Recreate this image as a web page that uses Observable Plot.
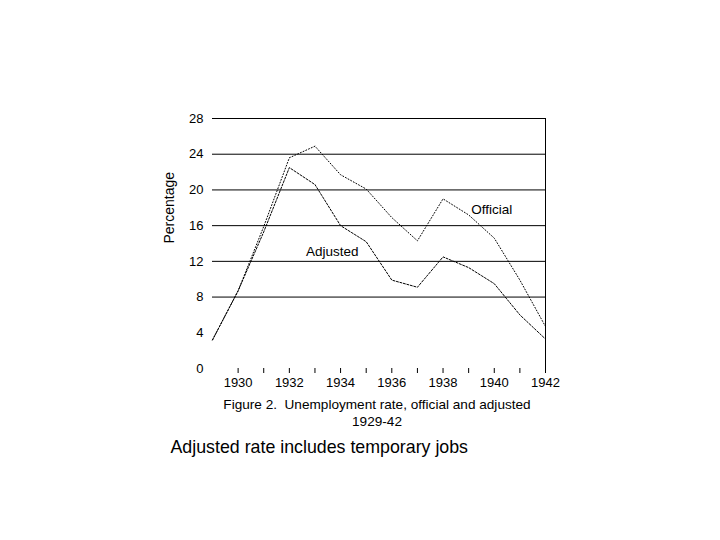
<!DOCTYPE html>
<html>
<head>
<meta charset="utf-8">
<script src="https://cdn.jsdelivr.net/npm/d3@7"></script>
<script src="https://cdn.jsdelivr.net/npm/@observablehq/plot@0.6"></script>
<style>
  html, body { margin: 0; padding: 0; background: #fff; }
</style>
</head>
<body>
<div id="chart"></div>
<script>
const years = [1929, 1930, 1931, 1932, 1933, 1934, 1935, 1936, 1937, 1938, 1939, 1940, 1941, 1942];
const official = [3.2, 8.7, 15.9, 23.6, 24.9, 21.7, 20.1, 16.9, 14.3, 19.0, 17.2, 14.6, 9.9, 4.7];
const adjusted = [3.2, 8.7, 15.3, 22.5, 20.6, 16.0, 14.2, 9.9, 9.1, 12.5, 11.3, 9.5, 6.0, 3.3];
const yTicks = [0, 4, 8, 12, 16, 20, 24, 28];
const gridValues = [8, 12, 16, 20, 24, 28];
const xTicks = [1930, 1931, 1932, 1933, 1934, 1935, 1936, 1937, 1938, 1939, 1940, 1941, 1942];
const seriesLabels = [
  {text: "Official", x: 1939.1, y: 17.8},
  {text: "Adjusted", x: 1932.65, y: 13.1}
];
const yLabel = "Percentage";
const captionLines = ["Figure 2.  Unemployment rate, official and adjusted", "1929-42"];
const note = "Adjusted rate includes temporary jobs";

const rows = years.map((year, i) => ({year, official: official[i], adjusted: adjusted[i]}));

const chart = Plot.plot({
  width: 720,
  height: 540,
  marginLeft: 212,
  marginRight: 175,
  marginTop: 118,
  marginBottom: 172,
  x: {domain: [1929, 1942]},
  y: {domain: [0, 28]},
  style: {fontFamily: "'Liberation Sans', Arial, sans-serif", fontSize: "13px", color: "#000", background: "#fff"},
  marks: [
    Plot.ruleY(gridValues, {x1: 1929, x2: 1942, stroke: "#000", strokeWidth: 1}),
    Plot.ruleX([1942], {y1: 0, y2: 28, stroke: "#000", strokeWidth: 1}),
    Plot.axisY({ticks: yTicks, tickSize: 0, tickPadding: 9, label: null, fontSize: 13}),
    Plot.axisX({ticks: xTicks, tickSize: 5, tickPadding: 4, label: null, fontSize: 13,
      tickFormat: d => (d % 2 === 0 ? String(d) : "")}),
    Plot.line(rows, {x: "year", y: "official", stroke: "#000", strokeWidth: 1, strokeDasharray: "1,2"}),
    Plot.line(rows, {x: "year", y: "adjusted", stroke: "#000", strokeWidth: 1, strokeDasharray: "2,1.6"}),
    Plot.text(seriesLabels, {x: "x", y: "y", text: "text", textAnchor: "start", fontSize: 13.5, fill: "#000"}),
    Plot.text([yLabel], {frameAnchor: "left", rotate: -90, dx: -43, fontSize: 14, fill: "#000"}),
    Plot.text([captionLines[0]], {frameAnchor: "bottom", dx: -2, dy: 40, fontSize: 13.6, fill: "#000"}),
    Plot.text([captionLines[1]], {frameAnchor: "bottom", dx: -2, dy: 57, fontSize: 13.6, fill: "#000"}),
    Plot.text([note], {frameAnchor: "bottom-left", dx: -42, dy: 84, textAnchor: "start", fontSize: 17.8, fill: "#000"})
  ]
});
document.getElementById("chart").appendChild(chart);
</script>
</body>
</html>
